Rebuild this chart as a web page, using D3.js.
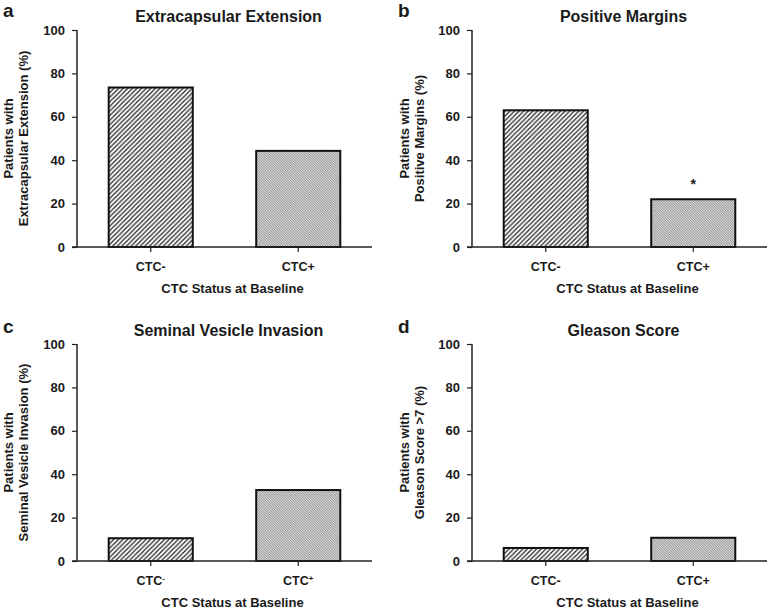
<!DOCTYPE html>
<html lang="en">
<head>
<meta charset="UTF-8">
<title>CTC status and pathology</title>
<script src="https://d3js.org/d3.v7.min.js"></script>
<style>
  body { margin: 0; background: white; }
  svg { display: block; }
  text { font-family: "Liberation Sans", Arial, sans-serif; font-weight: bold; fill: #1a1a1a; }
</style>
</head>
<body>
<svg width="769" height="609"></svg>
<script>
// data
const categories = ["CTC-", "CTC+"];
const panelLetters = ["a", "b", "c", "d"];
const panelTitles = ["Extracapsular Extension", "Positive Margins", "Seminal Vesicle Invasion", "Gleason Score"];
const yLabelLine1 = ["Patients with", "Patients with", "Patients with", "Patients with"];
const yLabelLine2 = ["Extracapsular Extension (%)", "Positive Margins (%)", "Seminal Vesicle Invasion (%)", "Gleason Score >7 (%)"];
const xLabel = "CTC Status at Baseline";
const ectValues = [73.5, 44.3];
const marginValues = [63.0, 22.0];
const sviValues = [10.5, 32.7];
const gleasonValues = [6.0, 10.7];
const yTicks = [0, 20, 40, 60, 80, 100];
// panel c writes the sign as superscript
const superscriptPanel = 2;
// significance marker: panel b, CTC+
const starPanel = 1, starCategory = "CTC+";

const allValues = [ectValues, marginValues, sviValues, gleasonValues];

const svg = d3.select("svg");

// hatch patterns
const defs = svg.append("defs");
const neg = defs.append("pattern").attr("id", "hatchNeg")
  .attr("patternUnits", "userSpaceOnUse").attr("width", 4.6).attr("height", 4.6);
neg.append("rect").attr("width", 4.6).attr("height", 4.6).attr("fill", "white");
neg.append("path").attr("d", "M-1,1 l2,-2 M0,4.6 l4.6,-4.6 M3.6,5.6 l2,-2")
  .attr("stroke", "#2a2a2a").attr("stroke-width", 1.3);

const pos = defs.append("pattern").attr("id", "hatchPos")
  .attr("patternUnits", "userSpaceOnUse").attr("width", 2.5).attr("height", 2.5);
pos.append("rect").attr("width", 2.5).attr("height", 2.5).attr("fill", "#dadada");
pos.append("path").attr("d", "M-0.5,-0.5 l3.5,3.5 M-0.5,2 l1,1 M2,-0.5 l1,1")
  .attr("stroke", "#707070").attr("stroke-width", 0.75);

// layout of the four panels
const layout = [
  { x0: 77, x1: 372, top: 30, bottom: 247, lx: 3, ly: 17, yl1: 8, yl2: 23 },
  { x0: 472, x1: 767, top: 30, bottom: 247, lx: 398, ly: 17, yl1: 404, yl2: 419 },
  { x0: 77, x1: 372, top: 344, bottom: 561, lx: 3, ly: 333, yl1: 8, yl2: 23 },
  { x0: 472, x1: 767, top: 344, bottom: 561, lx: 398, ly: 333, yl1: 404, yl2: 419 }
];

layout.forEach(function (L, i) {
  const g = svg.append("g");

  const x = d3.scaleBand().domain(categories)
    .range([L.x0, L.x1]).paddingInner(0.43).paddingOuter(0.215);
  const y = d3.scaleLinear().domain([0, 100]).range([L.bottom, L.top]);

  const data = categories.map(function (c, j) { return { cat: c, value: allValues[i][j] }; });

  // bars
  g.selectAll("rect.bar").data(data).enter().append("rect")
    .attr("class", "bar")
    .attr("x", function (d) { return x(d.cat); })
    .attr("width", x.bandwidth())
    .attr("y", function (d) { return y(d.value); })
    .attr("height", function (d) { return y(0) - y(d.value); })
    .attr("fill", function (d, j) { return j === 0 ? "url(#hatchNeg)" : "url(#hatchPos)"; })
    .attr("stroke", "#111").attr("stroke-width", 2);

  // y axis
  const yAxis = g.append("g").attr("transform", "translate(" + L.x0 + ",0)")
    .call(d3.axisLeft(y).tickValues(yTicks).tickSize(5).tickPadding(7));
  yAxis.select(".domain").attr("stroke", "#222").attr("stroke-width", 1.5).attr("d", "M0," + L.top + "V" + L.bottom);
  yAxis.selectAll(".tick line").attr("stroke", "#222").attr("stroke-width", 1.2);
  yAxis.selectAll(".tick text").style("font-size", "13px")
    .style("font-family", "'Liberation Sans', Arial, sans-serif").style("font-weight", "bold").attr("fill", "#1a1a1a");

  // x axis
  const xAxis = g.append("g").attr("transform", "translate(0," + L.bottom + ")")
    .call(d3.axisBottom(x).tickSize(5).tickPadding(10));
  xAxis.select(".domain").attr("stroke", "#222").attr("stroke-width", 1.5)
    .attr("d", "M" + (L.x0 - 5) + ",0H" + L.x1);
  xAxis.selectAll(".tick line").attr("stroke", "#222").attr("stroke-width", 1.2);
  xAxis.selectAll(".tick text").style("font-size", "12.5px")
    .style("font-family", "'Liberation Sans', Arial, sans-serif").style("font-weight", "bold").attr("fill", "#1a1a1a");

  if (i === superscriptPanel) {
    xAxis.selectAll(".tick text").each(function (d) {
      const t = d3.select(this);
      t.text(d.slice(0, 3));
      t.append("tspan").attr("dy", "-0.45em").style("font-size", "8px").text(d.slice(3) === "-" ? "-" : "+");
    });
  }

  // x axis label
  g.append("text").attr("x", (L.x0 + L.x1) / 2 + 8).attr("y", L.bottom + 46)
    .attr("text-anchor", "middle").style("font-size", "13px").text(xLabel);

  // title
  g.append("text").attr("x", (L.x0 + L.x1) / 2 + 4).attr("y", L.top - 8)
    .attr("text-anchor", "middle").style("font-size", "16px").text(panelTitles[i]);

  // panel letter
  g.append("text").attr("x", L.lx).attr("y", L.ly).style("font-size", "19px").text(panelLetters[i]);

  // y label (two lines)
  const cy = (L.top + L.bottom) / 2;
  g.append("text").attr("transform", "translate(" + (L.yl1 + 5) + "," + cy + ") rotate(-90)")
    .attr("text-anchor", "middle").style("font-size", "13px").text(yLabelLine1[i]);
  g.append("text").attr("transform", "translate(" + (L.yl2 + 5) + "," + cy + ") rotate(-90)")
    .attr("text-anchor", "middle").style("font-size", "13px").text(yLabelLine2[i]);

  // significance star
  if (i === starPanel) {
    const d = data.find(function (e) { return e.cat === starCategory; });
    g.append("text").attr("x", x(d.cat) + x.bandwidth() / 2).attr("y", y(d.value) - 10)
      .attr("text-anchor", "middle").style("font-size", "14px").text("*");
  }
});
</script>
</body>
</html>
